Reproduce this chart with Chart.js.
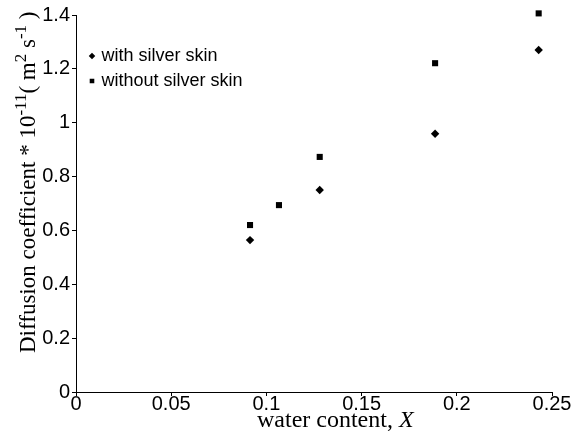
<!DOCTYPE html>
<html>
<head>
<meta charset="utf-8">
<script src="https://cdn.jsdelivr.net/npm/chart.js@4"></script>
<style>
  html, body { margin: 0; padding: 0; background: #fff; }
  #wrap { width: 581px; height: 448px; }
</style>
</head>
<body>
<div id="wrap"><canvas id="diffChart"></canvas></div>
<script>
// values
const withSkinX = [0.0914, 0.128, 0.1886, 0.243];
const withSkinY = [0.564, 0.750, 0.959, 1.270];
const withoutSkinX = [0.0914, 0.1066, 0.128, 0.1886, 0.243];
const withoutSkinY = [0.620, 0.694, 0.873, 1.221, 1.406];
const seriesNames = ['with silver skin', 'without silver skin'];

const toPoints = (xs, ys) => xs.map((x, i) => ({ x: x, y: ys[i] }));
const fmt = v => String(+Number(v).toFixed(2));

const tickFont = { family: 'Liberation Sans', size: 20 };
const serif = 'Liberation Serif';

// draws a run of text pieces one after another (for superscripts and the italic X)
function drawRun(ctx, parts) {
    let x = 0;
    parts.forEach(p => {
        ctx.font = p.font;
        ctx.fillText(p.text, x, p.dy || 0);
        x += ctx.measureText(p.text).width;
    });
}

const axisTitles = {
    id: 'axisTitles',
    afterDraw(chart) {
        const ctx = chart.ctx;
        const main = '23px "' + serif + '"';
        const sup = '17px "' + serif + '"';
        ctx.save();
        ctx.fillStyle = '#000';
        ctx.textBaseline = 'alphabetic';
        ctx.textAlign = 'left';
        // y axis title
        ctx.save();
        ctx.translate(35, 353);
        ctx.rotate(-Math.PI / 2);
        drawRun(ctx, [
            { text: 'Diffusion coefficient * 10', font: main },
            { text: '-11', font: sup, dy: -9 },
            { text: '( m', font: main },
            { text: '2', font: sup, dy: -9 },
            { text: ' s', font: main },
            { text: '-1', font: sup, dy: -9 },
            { text: ' )', font: main }
        ]);
        ctx.restore();
        // x axis title
        ctx.translate(257, 427);
        drawRun(ctx, [
            { text: 'water content, ', font: '24px "' + serif + '"' },
            { text: 'X', font: 'italic 24px "' + serif + '"' }
        ]);
        ctx.restore();
    }
};

// moves the legend to where it sits in the picture
const legendSpot = {
    id: 'legendSpot',
    afterLayout(chart) {
        const lg = chart.legend;
        lg.left = 91.5 - 7;
        lg.top = 47 - 7;
    }
};

const config = {
    type: 'scatter',
    data: {
        datasets: [{
            label: seriesNames[0],
            data: toPoints(withSkinX, withSkinY),
            pointStyle: 'rectRot',
            pointRadius: 4.2,
            backgroundColor: '#000',
            borderColor: '#000',
            borderWidth: 0,
            clip: false
        }, {
            label: seriesNames[1],
            data: toPoints(withoutSkinX, withoutSkinY),
            pointStyle: 'rect',
            pointRadius: 4.3,
            backgroundColor: '#000',
            borderColor: '#000',
            borderWidth: 0,
            clip: false
        }]
    },
    options: {
        responsive: true,
        maintainAspectRatio: false,
        animation: false,
        layout: { padding: { top: 15, right: 29, left: 0, bottom: 0 } },
        plugins: {
            legend: {
                position: 'chartArea',
                align: 'start',
                labels: {
                    usePointStyle: true,
                    boxWidth: 1,
                    boxHeight: 4.6,
                    padding: 7,
                    color: '#000',
                    font: { family: 'Liberation Sans', size: 18 }
                }
            },
            tooltip: { enabled: false }
        },
        scales: {
            x: {
                type: 'linear',
                min: 0,
                max: 0.25,
                afterFit: s => { s.height = 56; },
                ticks: { stepSize: 0.05, color: '#000', font: tickFont, padding: -4, callback: fmt },
                grid: { display: true, drawOnChartArea: false, tickLength: 4, tickColor: '#000' },
                border: { color: '#000', width: 1 }
            },
            y: {
                min: 0,
                max: 1.4,
                afterFit: s => { s.width = 76; },
                ticks: { stepSize: 0.2, color: '#000', font: tickFont, padding: 2, callback: fmt },
                grid: { display: true, drawOnChartArea: false, tickLength: 4, tickColor: '#000' },
                border: { color: '#000', width: 1 }
            }
        }
    },
    plugins: [axisTitles, legendSpot]
};

const diffChart = new Chart(document.getElementById('diffChart'), config);
</script>
</body>
</html>
